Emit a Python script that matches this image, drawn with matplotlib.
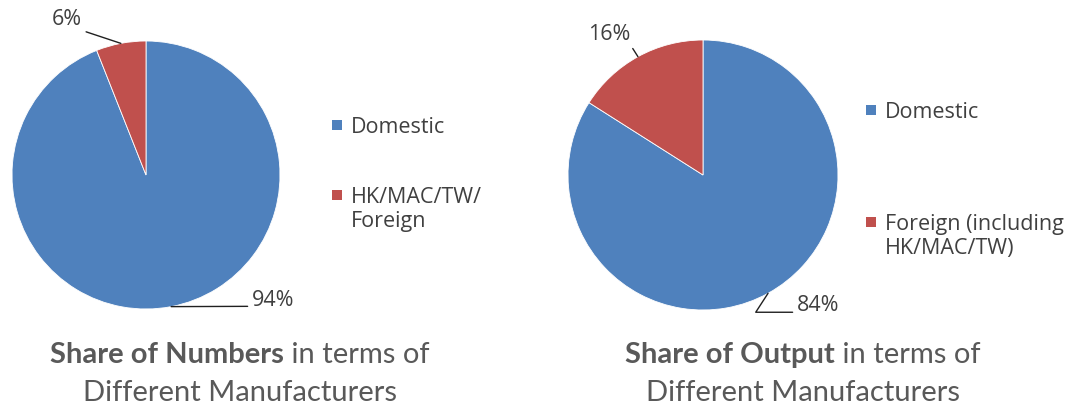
import matplotlib
matplotlib.use("Agg")
import matplotlib.pyplot as plt
from matplotlib.patches import Rectangle
import numpy as np

# ---- data ----
left_categories = ["Domestic", "HK/MAC/TW/\nForeign"]
left_values = [94, 6]
left_labels = ["94%", "6%"]

right_categories = ["Domestic", "Foreign (including\nHK/MAC/TW)"]
right_values = [84, 16]
right_labels = ["84%", "16%"]

colors = ["#4F81BD", "#C0504D"]
left_title_bold = "Share of Numbers"
right_title_bold = "Share of Output"
title_rest = " in terms of"
title_line2 = "Different Manufacturers"

W, H = 1081, 408
fig = plt.figure(figsize=(W / 100, H / 100), dpi=100)
fig.patch.set_facecolor("white")

TXT = "#404040"
TITLE_C = "#595959"
LFONT = ["Open Sans", "DejaVu Sans"]
TFONT = ["Lato", "DejaVu Sans"]
FS = 15.5
TFS = 21


def pie_axes(cx, cy, r):
    ax = fig.add_axes([(cx - r) / W, (H - cy - r) / H, 2 * r / W, 2 * r / H])
    return ax


def draw_pie(ax, values):
    wedges, _ = ax.pie(values, colors=colors, startangle=90, counterclock=False,
                       radius=1.0, wedgeprops=dict(linewidth=0.6, edgecolor="white"))
    ax.set_xlim(-1, 1)
    ax.set_ylim(-1, 1)
    ax.set_aspect("equal")
    ax.axis("off")
    return wedges


def mid_point(w):
    a = np.deg2rad((w.theta1 + w.theta2) / 2)
    return np.cos(a), np.sin(a)


def label(ax, text, w, xy_text, relpos, conn="arc3"):
    ax.annotate(text, xy=mid_point(w), xytext=xy_text,
                ha="center", va="center", fontsize=FS, color=TXT, family=LFONT,
                annotation_clip=False,
                arrowprops=dict(arrowstyle="-", color="#202020", lw=1.0,
                                shrinkA=1, shrinkB=0, relpos=relpos,
                                connectionstyle=conn))


# ---- left pie ----
axL = pie_axes(146, 175, 134)
wL = draw_pie(axL, left_values)
label(axL, left_labels[1], wL[1], (-0.59, 1.157), (1.0, 0.0))
label(axL, left_labels[0], wL[0], (0.948, -0.933), (0.0, 0.2))

# ---- right pie ----
axR = pie_axes(703, 175, 135)
wR = draw_pie(axR, right_values)
label(axR, right_labels[1], wR[1], (-0.696, 1.044), (1.0, 0.0))
label(axR, right_labels[0], wR[0], (0.852, -0.970), (0.0, 0.2),
      "angle,angleA=0,angleB=57,rad=0")


# ---- legends (square aligned with first line) ----
def legend(x_sq, ys, cats):
    for y, cat, c in zip(ys, cats, colors):
        fig.patches.append(Rectangle((x_sq / W, (H - y - 5) / H), 10 / W, 10 / H,
                                     transform=fig.transFigure, facecolor=c,
                                     edgecolor="none"))
        fig.text((x_sq + 19) / W, (H - y + 8) / H, cat, ha="left", va="top",
                 fontsize=FS, color=TXT, family=LFONT, linespacing=1.2)


legend(332, [125, 195], left_categories)
legend(866, [110, 222], right_categories)


# ---- titles ----
def title(cx, bold, y1, y2):
    r = fig.canvas.get_renderer()
    tb = fig.text(0, (H - y1) / H, bold, fontsize=TFS, fontweight="bold",
                  color=TITLE_C, family=TFONT, va="center", ha="left")
    tr = fig.text(0, (H - y1) / H, title_rest, fontsize=TFS, color=TITLE_C,
                  family=TFONT, va="center", ha="left")
    wb = tb.get_window_extent(r).width
    wr = tr.get_window_extent(r).width
    x0 = cx - (wb + wr) / 2
    tb.set_x(x0 / W)
    tr.set_x((x0 + wb) / W)
    fig.text(cx / W, (H - y2) / H, title_line2, fontsize=TFS, color=TITLE_C,
             family=TFONT, va="center", ha="center")


title(240, left_title_bold, 355, 393)
title(803, right_title_bold, 355, 393)

fig.savefig("out.png", dpi=100, facecolor="white")
